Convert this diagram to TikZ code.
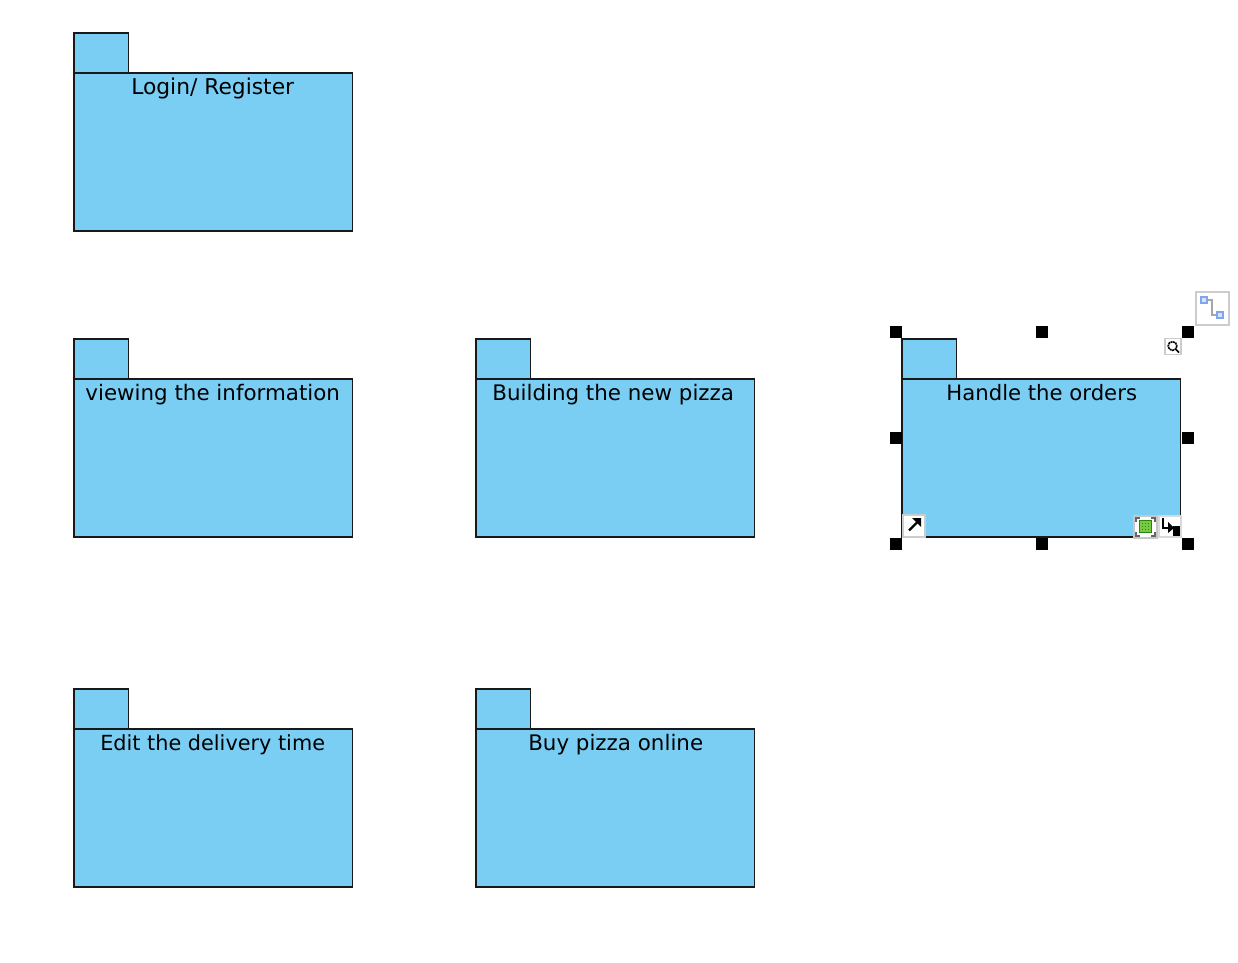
\documentclass[tikz,border=0pt]{standalone}
\usepackage{fontspec}
\setmainfont{DejaVu Sans}
\definecolor{pkgblue}{HTML}{7ACEF4}
\definecolor{icongreen}{HTML}{1E8A10}
\definecolor{iconlime}{HTML}{7CC840}
\definecolor{iconblue}{HTML}{7FA6F0}
\tikzset{
  x=1pt,y=-1pt,
  pkgline/.style={draw=black!90,line width=1.95pt,fill=pkgblue,line join=miter},
  pkglabel/.style={text=black,inner sep=0pt,anchor=base},
  handle/.style={fill=black,draw=none},
  iconbox/.style={draw=black!20,line width=2pt,fill=white},
}
\newcommand{\pkgbox}[6]{% x, y(top of tab), name, text, text shift, font size
  \draw[pkgline] (#1,#2) rectangle ++(54.3,40);
  \draw[pkgline] (#1,#2+40) rectangle ++(278.3,158);
  \node[pkglabel,font=\fontsize{#6}{25}\selectfont] (#3) at (#1+139+#5,#2+62) {#4};
}
\newcommand{\hnd}[2]{\fill[handle] (#1-6,#2-6) rectangle ++(12,12);}
\begin{document}
\begin{tikzpicture}
\useasboundingbox (0,0) rectangle (1238,962);
\fill[white] (0,0) rectangle (1238,962);
\pkgbox{74.2}{32.6}{login}{Login/ Register}{-0.5}{21.8}
\pkgbox{74.2}{338.6}{view}{viewing the information}{-0.5}{21.4}
\pkgbox{476.2}{338.6}{build}{Building the new pizza}{-2}{21.4}
\pkgbox{902.2}{338.6}{handle}{Handle the orders}{0.5}{21.2}
\pkgbox{74.2}{688.6}{edit}{Edit the delivery time}{-0.5}{20.8}
\pkgbox{476.2}{688.6}{buy}{Buy pizza online}{0.5}{21.4}
% selection handles
\hnd{896}{332}\hnd{1042}{332}\hnd{1188}{332}
\hnd{896}{438}\hnd{1188}{438}
\hnd{896}{544}\hnd{1042}{544}\hnd{1188}{544}
% connector-style icon
\draw[iconbox] (1195.5,291.5) rectangle (1228.5,324.5);
\draw[black!35,line width=2.4pt] (1205,300) -- (1212,300) -- (1212,315) -- (1219,315);
\draw[iconblue,line width=1.6pt,fill=white!70!iconblue] (1201,297) rectangle ++(6,6);
\draw[iconblue,line width=1.6pt,fill=white!70!iconblue] (1217,312) rectangle ++(6,6);
% magnifier icon
\draw[black!20,line width=1.4pt,fill=white] (1165,338.5) rectangle (1181,354.5);
\draw[black,line width=1.6pt,dash pattern=on 2pt off .6pt] (1172.5,346) circle (4.4);
\draw[black,line width=1.6pt] (1175.5,349) -- (1179,352.5);
% bottom-left arrow icon
\draw[iconbox] (902.5,515) rectangle (925,537);
\draw[black,line width=2.4pt] (909,530.5) -- (917,522.5);
\fill[black] (912,518) -- (921,518) -- (921,527) -- cycle;
% bottom-right icons
\draw[black!22,line width=2pt,fill=white] (1134,516) rectangle (1157,538);
\draw[black!60,line width=1.6pt] (1136,522) -- (1136,518) -- (1140,518);
\draw[black!60,line width=1.6pt] (1151,518) -- (1155,518) -- (1155,522);
\draw[black!60,line width=1.6pt] (1136,532) -- (1136,536) -- (1140,536);
\draw[black!60,line width=1.6pt] (1151,536) -- (1155,536) -- (1155,532);
\draw[icongreen,line width=1.4pt,fill=iconlime] (1139.5,520.5) rectangle (1151.5,532.5);
\foreach \a in {1142.5,1145.5,1148.5}\foreach \b in {523.5,526.5,529.5}{\fill[icongreen] (\a-.8,\b-.8) rectangle ++(1.6,1.6);}
\draw[black!15,line width=2pt,fill=white] (1159,515.5) rectangle (1181,537);
\draw[black,line width=1.6pt] (1163,518) -- (1163,528) -- (1173,528);
\fill[black] (1168,522) -- (1174,528) -- (1168,533) -- cycle;
\fill[black] (1173,526) rectangle (1180,536);
\end{tikzpicture}
\end{document}
